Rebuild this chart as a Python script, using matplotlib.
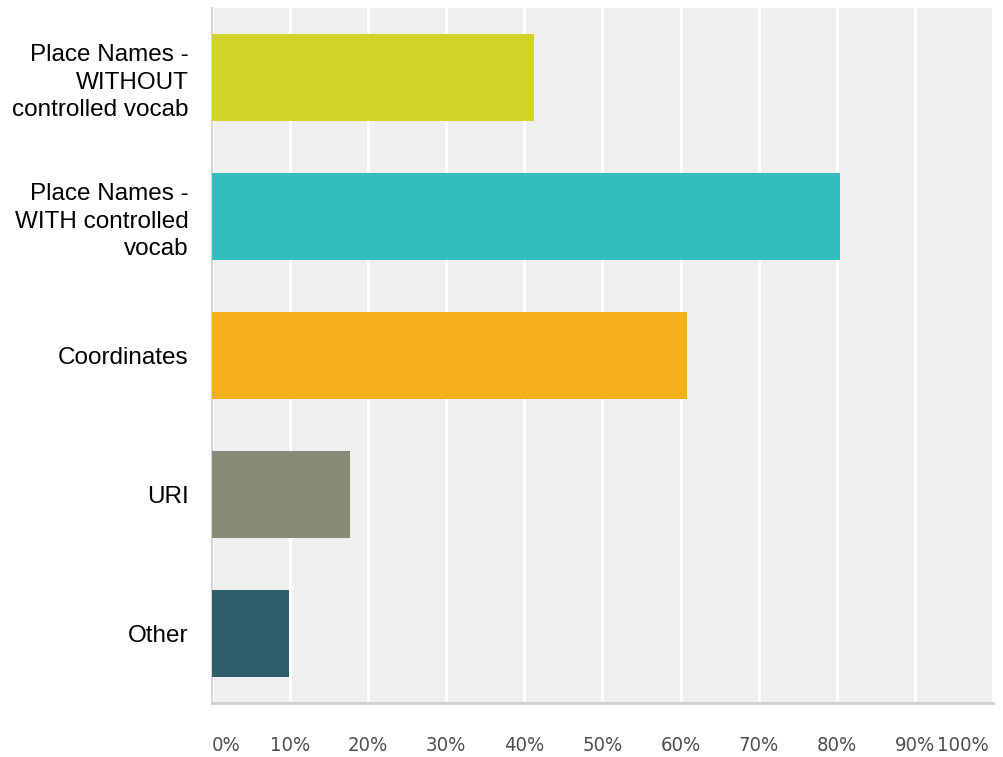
import matplotlib
matplotlib.use('Agg')
import matplotlib.pyplot as plt
from matplotlib.transforms import ScaledTranslation

# Survey answers (percent of 51 respondents)
categories = ['Place Names -\nWITHOUT\ncontrolled vocab',
              'Place Names -\nWITH controlled\nvocab',
              'Coordinates',
              'URI',
              'Other']
percents = [41.18, 80.39, 60.78, 17.65, 9.80]
bar_colors = ['#cfd426', '#33bdbd', '#f5ae1c', '#898a78', '#2e5e6a']
x_ticks = [0, 10, 20, 30, 40, 50, 60, 70, 80, 90, 100]
x_tick_labels = ['0%', '10%', '20%', '30%', '40%', '50%', '60%', '70%', '80%', '90%', '100%']

fig = plt.figure(figsize=(10.04, 7.57), dpi=100)
ax = fig.add_axes([212 / 1004, 1 - 703 / 757, (993 - 212) / 1004, (703 - 8) / 757])
ax.set_facecolor('#efefef')

ypos = list(range(len(categories)))
ax.barh(ypos, percents, height=0.625, color=bar_colors, zorder=3)

ax.set_xlim(0, 100)
ax.set_ylim(len(categories) - 0.5, -0.5)

# white vertical gridlines
ax.set_xticks(x_ticks)
ax.xaxis.grid(True, color='white', linewidth=2)
ax.set_axisbelow(True)

ax.set_xticklabels(x_tick_labels, color='#4d4d4d', fontsize=14.5,
                   family='DejaVu Sans', fontstretch='condensed')
ax.tick_params(axis='x', length=0, pad=24)
lbls = ax.get_xticklabels()
lbls[0].set_horizontalalignment('left')
lbls[-1].set_horizontalalignment('right')
# the 100% label sits a bit inside the right edge
lbls[-1].set_transform(lbls[-1].get_transform() +
                       ScaledTranslation(-4 / 100, 0, fig.dpi_scale_trans))

ax.set_yticks(ypos)
ax.set_yticklabels(categories, fontsize=17.5, family='Liberation Sans',
                   color='black', linespacing=1.33)
ax.tick_params(axis='y', length=0, pad=17)

for side in ['top', 'right']:
    ax.spines[side].set_visible(False)
ax.spines['left'].set_color('#d6d6d6')
ax.spines['left'].set_linewidth(1.5)
ax.spines['bottom'].set_color('#cfcfcf')
ax.spines['bottom'].set_linewidth(2)

plt.savefig('out.png', dpi=100)
